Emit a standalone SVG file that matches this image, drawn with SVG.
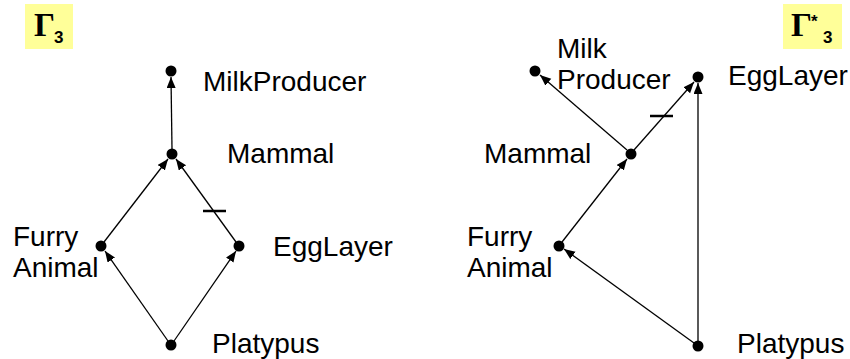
<svg xmlns="http://www.w3.org/2000/svg" width="850" height="359" viewBox="0 0 850 359">
<style>
.lbl{font-family:"Liberation Sans",Arial,sans-serif;font-size:28px;fill:#000}
.g{font-family:"Liberation Serif","Times New Roman",serif;font-size:33px;font-weight:bold;fill:#000}
.sub{font-family:"Liberation Sans",Arial,sans-serif;font-size:17px;font-weight:bold;fill:#000}
.dot{fill:#000}
.edge{stroke:#000;stroke-width:1.3;fill:none;marker-end:url(#arr)}
.bar{stroke:#000;stroke-width:2.5}
.tag{fill:#ffff99}
</style>
<defs>
<marker id="arr" markerWidth="12" markerHeight="10" refX="11" refY="4.5" orient="auto" markerUnits="userSpaceOnUse">
<path d="M0,0 L11,4.5 L0,9 Z" fill="#000"/>
</marker>
</defs>
<g id="title-left">
<rect class="tag" x="25" y="4" width="48" height="45"/>
<text class="g" x="34" y="36">Γ</text>
<text class="sub" x="54" y="43">3</text>
</g>
<g id="title-right">
<rect class="tag" x="783" y="4" width="59" height="45"/>
<text class="g" x="791" y="36">Γ</text>
<text class="sub" x="811" y="27">*</text>
<text class="sub" x="823" y="43">3</text>
</g>
<g id="connectors">
<line class="edge" x1="172" y1="149" x2="171" y2="77"/>
<line class="edge" x1="104" y1="242" x2="168" y2="159"/>
<line class="edge" x1="236" y1="242" x2="176" y2="159"/>
<line class="bar" x1="203" y1="211" x2="226" y2="211"/>
<line class="edge" x1="168" y1="341" x2="105" y2="251"/>
<line class="edge" x1="174" y1="341" x2="236" y2="251"/>
<line class="edge" x1="627" y1="150" x2="540" y2="75"/>
<line class="edge" x1="634" y1="150" x2="694" y2="82"/>
<line class="bar" x1="650" y1="116" x2="673" y2="116"/>
<line class="edge" x1="562" y1="242" x2="627" y2="159"/>
<line class="edge" x1="694" y1="343" x2="564" y2="249"/>
<line class="edge" x1="698" y1="341" x2="698" y2="83"/>
</g>
<g id="n-milk-l"><circle class="dot" cx="171" cy="71" r="5.5"/><text class="lbl" x="203" y="91">MilkProducer</text></g>
<g id="n-mammal-l"><circle class="dot" cx="172" cy="154" r="5.5"/><text class="lbl" x="227" y="163">Mammal</text></g>
<g id="n-furry-l"><circle class="dot" cx="101" cy="246" r="5.5"/><text class="lbl" x="13" y="246">Furry</text><text class="lbl" x="13" y="277">Animal</text></g>
<g id="n-egg-l"><circle class="dot" cx="239" cy="246" r="5.5"/><text class="lbl" x="273" y="256">EggLayer</text></g>
<g id="n-platypus-l"><circle class="dot" cx="171" cy="345" r="5.5"/><text class="lbl" x="212" y="353">Platypus</text></g>
<g id="n-milk-r"><circle class="dot" cx="535" cy="71" r="5.5"/><text class="lbl" x="557" y="58">Milk</text><text class="lbl" x="557" y="89">Producer</text></g>
<g id="n-egg-r"><circle class="dot" cx="698" cy="77" r="5.5"/><text class="lbl" x="728" y="85">EggLayer</text></g>
<g id="n-mammal-r"><circle class="dot" cx="631" cy="154" r="5.5"/><text class="lbl" x="484" y="163">Mammal</text></g>
<g id="n-furry-r"><circle class="dot" cx="559" cy="246" r="5.5"/><text class="lbl" x="467" y="246">Furry</text><text class="lbl" x="467" y="277">Animal</text></g>
<g id="n-platypus-r"><circle class="dot" cx="698" cy="346" r="5.5"/><text class="lbl" x="737" y="353">Platypus</text></g>
</svg>
